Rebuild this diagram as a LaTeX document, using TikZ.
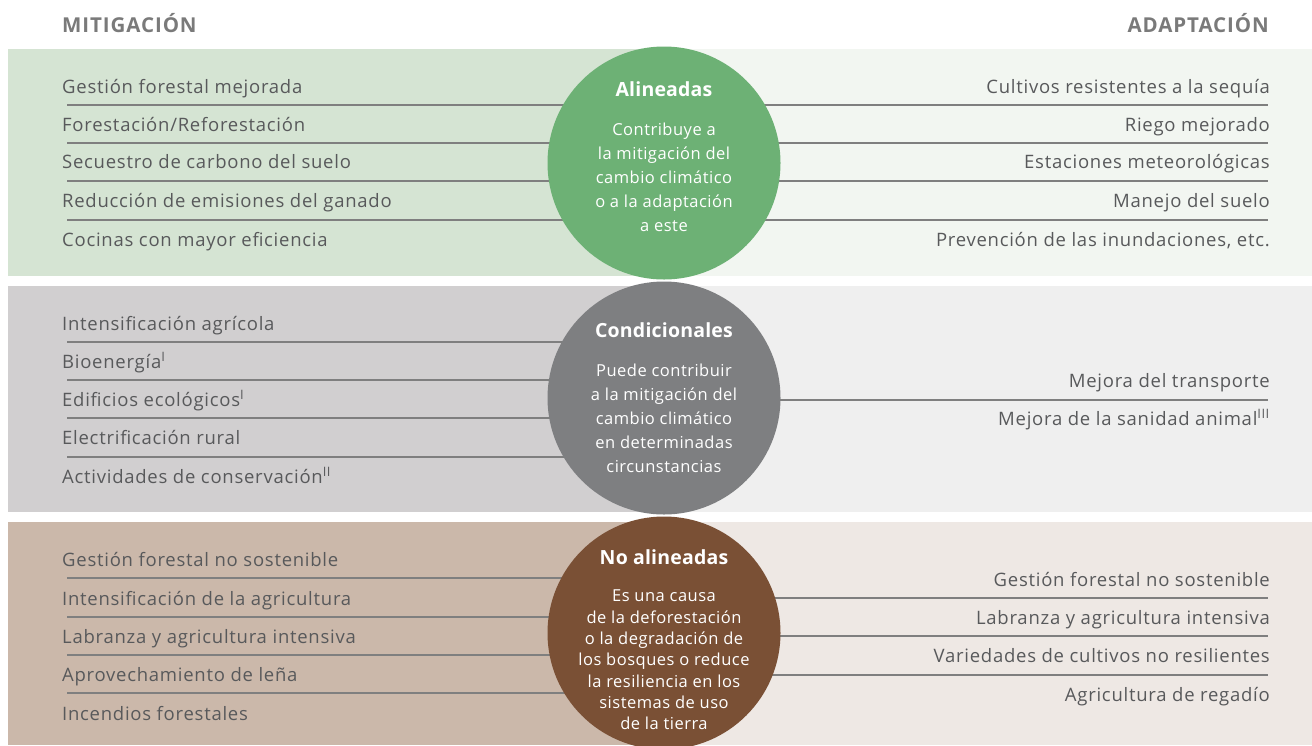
\documentclass[tikz,border=0pt]{standalone}
\usepackage{fontspec}
\setmainfont{Open Sans}
\definecolor{txt}{HTML}{58595B}
\definecolor{hdr}{HTML}{7A7A7A}
\definecolor{sep}{HTML}{7F7F7F}
\definecolor{gL}{HTML}{D5E4D3}
\definecolor{gR}{HTML}{F2F6F1}
\definecolor{gC}{HTML}{6DB175}
\definecolor{cL}{HTML}{D1CFD0}
\definecolor{cR}{HTML}{EFEFEF}
\definecolor{cC}{HTML}{7E7F81}
\definecolor{bL}{HTML}{CBB8AA}
\definecolor{bR}{HTML}{EEE8E4}
\definecolor{bC}{HTML}{7A5035}
\begin{document}
\begin{tikzpicture}[x=1pt,y=-1pt,
  item/.style={inner sep=0pt,text=txt,font=\fontsize{18.5}{20}\selectfont\addfontfeatures{LetterSpace=4}},
  litem/.style={item,anchor=base west},
  ritem/.style={item,anchor=base east},
  header/.style={inner sep=0pt,text=hdr,font=\fontsize{20.5}{22}\selectfont\bfseries\addfontfeatures{LetterSpace=4.5}},
  sepline/.style={draw=sep,line width=1.2pt},
  circ/.style={circle,minimum size=233pt,inner sep=0pt},
  ctitle/.style={inner sep=0pt,text=white,anchor=base,font=\fontsize{19.5}{22}\selectfont\bfseries\addfontfeatures{LetterSpace=1}},
  cbody/.style={inner sep=0pt,text=white,align=center,font=\fontsize{16.5}{24}\selectfont\addfontfeatures{LetterSpace=3}}]
\useasboundingbox (0,0) rectangle (1312,745);
% headers
\node[header,anchor=base west] (hmit) at (62,32) {MITIGACIÓN};
\node[header,anchor=base east] (hada) at (1269,32) {ADAPTACIÓN};
% panels
\fill[gL] (8,49) rectangle (664,276);
\fill[gR] (664,49) rectangle (1312,276);
\fill[cL] (8,286) rectangle (664,512);
\fill[cR] (664,286) rectangle (1312,512);
\fill[bL] (8,522) rectangle (664,745);
\fill[bR] (664,522) rectangle (1312,745);
% circle centres
\coordinate (c1) at (664,163);
\coordinate (c2) at (664,398);
\coordinate (c3) at (664,633);
% separator lines panel 1
\foreach \y in {105,143,181,220}{
  \coordinate (a) at (67,\y); \coordinate (b) at (1268,\y);
  \draw[sepline] (a) -- (b);}
% panel 2
\foreach \y in {342,380,418,457}{
  \coordinate (a) at (67,\y); \coordinate (b) at (664,\y);
  \draw[sepline] (a) -- (b);}
\coordinate (r2a) at (664,400); \coordinate (r2b) at (1268,400);
\draw[sepline] (r2a) -- (r2b);
% panel 3
\foreach \y in {578,617,655,693}{
  \coordinate (a) at (67,\y); \coordinate (b) at (664,\y);
  \draw[sepline] (a) -- (b);}
\foreach \y in {598,636,675}{
  \coordinate (a) at (664,\y); \coordinate (b) at (1268,\y);
  \draw[sepline] (a) -- (b);}
% circles
\node[circ,fill=gC] (C1) at (c1) {};
\node[circ,fill=cC] (C2) at (c2) {};
\node[circ,fill=bC] (C3) at (c3) {};
% circle texts
\node[ctitle] (t1) at (664,96) {Alineadas};
\node[cbody,anchor=north] (b1) at (664,123) {Contribuye a\\la mitigación del\\cambio climático\\o a la adaptación\\a este};
\node[ctitle] (t2) at (664,337) {Condicionales};
\node[cbody,anchor=north] (b2) at (664,364) {Puede contribuir\\a la mitigación del\\cambio climático\\en determinadas\\circunstancias};
\node[ctitle] (t3) at (664,564) {No alineadas};
\node[cbody,anchor=north,font=\fontsize{16.5}{21.3}\selectfont\addfontfeatures{LetterSpace=3}] (b3) at (664,590) {Es una causa\\de la deforestación\\o la degradación de\\los bosques o reduce\\la resiliencia en los\\sistemas de uso\\de la tierra};
% panel 1 items
\node[litem] (l11) at (62,93) {Gestión forestal mejorada};
\node[litem] (l12) at (62,131) {Forestación/Reforestación};
\node[litem] (l13) at (62,168) {Secuestro de carbono del suelo};
\node[litem] (l14) at (62,207) {Reducción de emisiones del ganado};
\node[litem] (l15) at (62,246) {Cocinas con mayor eficiencia};
\node[ritem] (r11) at (1270,93) {Cultivos resistentes a la sequía};
\node[ritem] (r12) at (1270,131) {Riego mejorado};
\node[ritem] (r13) at (1270,168) {Estaciones meteorológicas};
\node[ritem] (r14) at (1270,207) {Manejo del suelo};
\node[ritem] (r15) at (1270,246) {Prevención de las inundaciones, etc.};
% panel 2 items
\node[litem] (l21) at (62,330) {Intensificación agrícola};
\node[litem] (l22) at (62,368) {Bioenergía\textsuperscript{I}};
\node[litem] (l23) at (62,406) {Edificios ecológicos\textsuperscript{I}};
\node[litem] (l24) at (62,444) {Electrificación rural};
\node[litem] (l25) at (62,483) {Actividades de conservación\textsuperscript{II}};
\node[ritem] (r21) at (1270,387) {Mejora del transporte};
\node[ritem] (r22) at (1270,425) {Mejora de la sanidad animal\textsuperscript{III}};
% panel 3 items
\node[litem] (l31) at (62,566) {Gestión forestal no sostenible};
\node[litem] (l32) at (62,605) {Intensificación de la agricultura};
\node[litem] (l33) at (62,643) {Labranza y agricultura intensiva};
\node[litem] (l34) at (62,681) {Aprovechamiento de leña};
\node[litem] (l35) at (62,720) {Incendios forestales};
\node[ritem] (r31) at (1270,586) {Gestión forestal no sostenible};
\node[ritem] (r32) at (1270,624) {Labranza y agricultura intensiva};
\node[ritem] (r33) at (1270,662) {Variedades de cultivos no resilientes};
\node[ritem] (r34) at (1270,701) {Agricultura de regadío};
\end{tikzpicture}
\end{document}
